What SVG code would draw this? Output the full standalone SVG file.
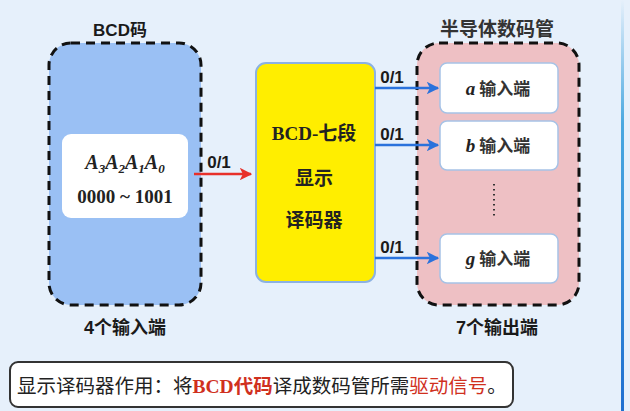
<svg xmlns="http://www.w3.org/2000/svg" width="630" height="411" viewBox="0 0 630 411">
<defs>
<linearGradient id="vline" x1="0" y1="0" x2="0" y2="1">
<stop offset="0" stop-color="#e6f0fb"/>
<stop offset="0.3" stop-color="#4aa8e0"/>
<stop offset="1" stop-color="#1f6fd0"/>
</linearGradient>
<marker id="ah-red" viewBox="0 0 10 10" refX="9" refY="5" markerWidth="5" markerHeight="5" orient="auto" markerUnits="strokeWidth">
<path d="M0,0 L10,5 L0,10 L2.5,5 Z" fill="#e8302a"/>
</marker>
<marker id="ah-blue" viewBox="0 0 10 10" refX="9" refY="5" markerWidth="5" markerHeight="5" orient="auto" markerUnits="strokeWidth">
<path d="M0,0 L10,5 L0,10 L2.5,5 Z" fill="#2a72dc"/>
</marker>
</defs>
<style>
.lbl{font-family:"Liberation Sans","Noto Sans CJK SC",sans-serif;font-weight:bold;font-size:18px;fill:#1a1a1a;text-anchor:middle}
.num{font-family:"Liberation Sans",sans-serif;font-weight:bold;font-size:17px;fill:#1a1a1a;text-anchor:middle}
.ser{font-family:"Liberation Serif","Noto Sans CJK SC",serif;font-weight:bold;fill:#222;text-anchor:middle}
.grp{stroke:#111;stroke-width:3;stroke-dasharray:9 6}
.port{fill:#fff;stroke:#a6c2e6;stroke-width:1.5}
.cjk{font-family:"Noto Sans CJK SC",sans-serif;font-size:17px;fill:#333;font-weight:bold}
</style>
<rect x="0" y="0" width="630" height="411" fill="#e6f0fb"/>
<rect x="621" y="0" width="3" height="411" fill="url(#vline)"/>

<g id="bcd-group">
<text class="lbl" x="120" y="36" style="font-size:17px">BCD码</text>
<rect x="49" y="43" width="152" height="262" rx="22" fill="#9ac0f4" class="grp"/>
<text class="lbl" x="125" y="334">4个输入端</text>
</g>
<g id="bcd-input">
<rect x="62" y="134" width="126" height="84" rx="9" fill="#fff"/>
<text class="ser" x="125" y="169" font-size="20" font-style="italic">A<tspan font-size="13" dy="4">3</tspan><tspan dy="-4">A</tspan><tspan font-size="13" dy="4">2</tspan><tspan dy="-4">A</tspan><tspan font-size="13" dy="4">1</tspan><tspan dy="-4">A</tspan><tspan font-size="13" dy="4">0</tspan></text>
<text class="ser" x="125" y="203" font-size="19">0000 ~ 1001</text>
</g>

<g id="decoder">
<rect x="256" y="63" width="119" height="219" rx="10" fill="#ffee00" stroke="#8cb2e2" stroke-width="2"/>
<text class="ser" x="314" y="140" font-size="19">BCD-七段</text>
<text class="ser" x="314" y="185" font-size="19">显示</text>
<text class="ser" x="314" y="227" font-size="19">译码器</text>
</g>

<g id="display-group">
<text class="lbl" x="497" y="36" style="font-size:19px;fill:#333">半导体数码管</text>
<rect x="417" y="43" width="162" height="262" rx="22" fill="#eec0c4" class="grp"/>
<text class="lbl" x="497" y="334">7个输出端</text>
<line x1="494" y1="184" x2="494" y2="218" stroke="#333" stroke-width="2" stroke-dasharray="1.5 3.5"/>
</g>
<g id="port-a">
<rect class="port" x="440" y="63" width="118" height="50" rx="7"/>
<text x="498" y="95" text-anchor="middle"><tspan class="ser" font-style="italic" font-size="19" font-weight="normal">a</tspan><tspan class="cjk"> 输入端</tspan></text>
</g>
<g id="port-b">
<rect class="port" x="440" y="121" width="118" height="49" rx="7"/>
<text x="498" y="152" text-anchor="middle"><tspan class="ser" font-style="italic" font-size="19" font-weight="normal">b</tspan><tspan class="cjk"> 输入端</tspan></text>
</g>
<g id="port-g">
<rect class="port" x="440" y="234" width="118" height="49" rx="7"/>
<text x="498" y="265" text-anchor="middle"><tspan class="ser" font-style="italic" font-size="19" font-weight="normal">g</tspan><tspan class="cjk"> 输入端</tspan></text>
</g>

<g id="connectors">
<line x1="194" y1="174" x2="251" y2="174" stroke="#e8302a" stroke-width="2.5" marker-end="url(#ah-red)"/>
<text class="num" x="219" y="168">0/1</text>
<line x1="375" y1="88" x2="438" y2="88" stroke="#2a72dc" stroke-width="2.5" marker-end="url(#ah-blue)"/>
<text class="num" x="392" y="83">0/1</text>
<line x1="375" y1="145" x2="438" y2="145" stroke="#2a72dc" stroke-width="2.5" marker-end="url(#ah-blue)"/>
<text class="num" x="392" y="140">0/1</text>
<line x1="375" y1="258" x2="438" y2="258" stroke="#2a72dc" stroke-width="2.5" marker-end="url(#ah-blue)"/>
<text class="num" x="392" y="253">0/1</text>
</g>

<g id="note">
<rect x="10" y="362" width="503" height="45" rx="8" fill="#fff" stroke="#333" stroke-width="2"/>
<text x="17" y="393" font-family="'Liberation Serif','Noto Sans CJK SC',serif" font-size="19.5" fill="#222">显示译码器作用：将<tspan fill="#d0301e" font-weight="bold">BCD代码</tspan>译成数码管所需<tspan fill="#d0301e">驱动信号</tspan>。</text>
</g>
</svg>
